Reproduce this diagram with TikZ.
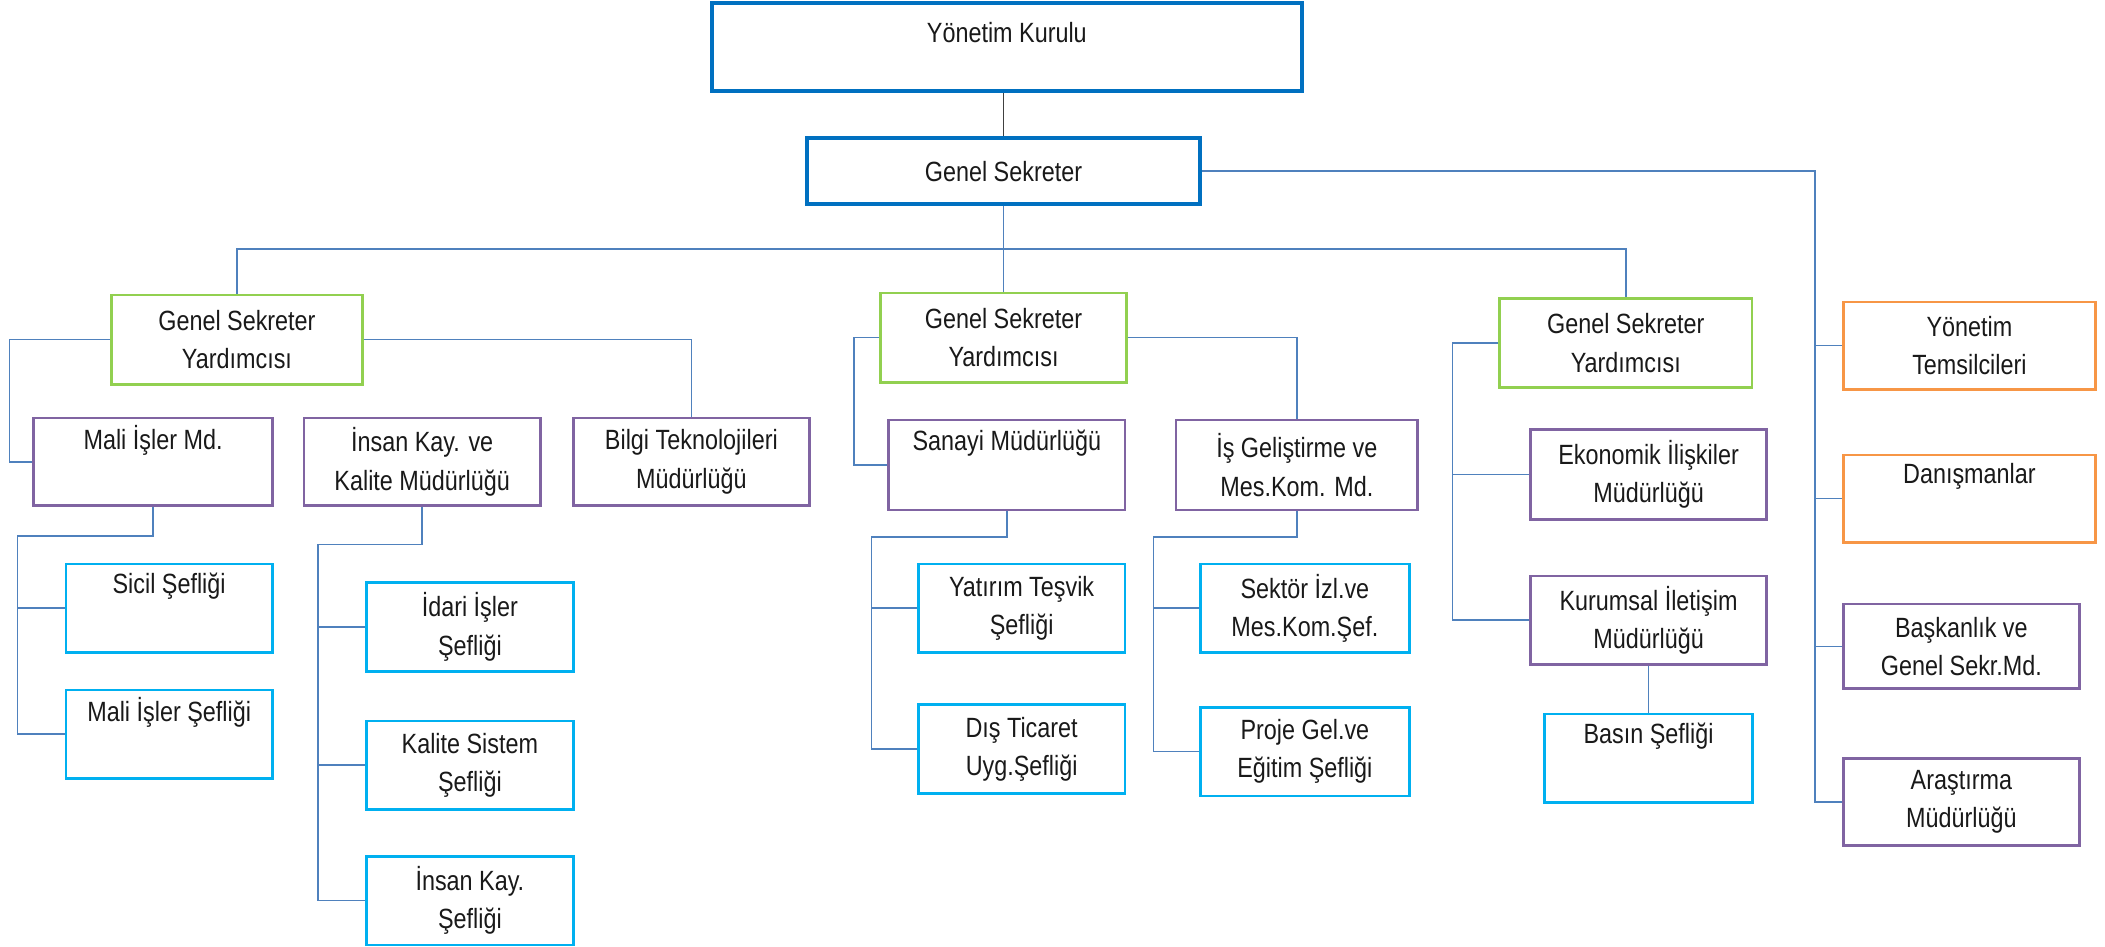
\documentclass[tikz,border=0pt]{standalone}
\usepackage{fontspec}
\setmainfont[FakeStretch=0.84]{Liberation Sans}
\usepackage{xcolor}
\usetikzlibrary{positioning, calc}
\definecolor{chiefblue}{HTML}{0070C0}
\definecolor{deputygreen}{HTML}{92D050}
\definecolor{officepurple}{HTML}{8064A2}
\definecolor{unitcyan}{HTML}{00B0F0}
\definecolor{advisororange}{HTML}{F79646}
\definecolor{linkblue}{HTML}{4F81BD}
\tikzset{%
  box/.style={draw, rectangle, align=center, inner sep=0mm, text=black!90,
    font=\fontsize{11.8}{16.2}\selectfont},
  chiefbox/.style={box, draw=chiefblue, line width=1.7pt},
  deputybox/.style={box, draw=deputygreen, line width=1.1pt,
    minimum width=3.74cm, minimum height=1.33cm},
  officebox/.style={box, draw=officepurple, line width=1.1pt,
    minimum width=3.52cm, minimum height=1.3cm},
  unitbox/.style={box, draw=unitcyan, line width=1.1pt,
    minimum width=3.08cm, minimum height=1.32cm},
  advisorbox/.style={box, draw=advisororange, line width=1.1pt,
    minimum width=3.76cm, minimum height=1.3cm},
  link/.style={draw=linkblue, line width=0.65pt}
}

\begin{document}
\begin{tikzpicture}[x=0.02cm, y=-0.02cm]
  \useasboundingbox (0,0) rectangle (1568,705);

  \node[chiefbox, minimum width=8.8cm, minimum height=1.32cm] (yk) at (750,35)
    {Yönetim Kurulu\\[-9pt]\strut};
  \node[chiefbox, minimum width=5.86cm, minimum height=0.98cm] (gs) at (747.5,127.5)
    {Genel Sekreter};

  \node[deputybox] (gsy1) at (176.5,253) {Genel Sekreter\\Yardımcısı};
  \node[deputybox, minimum width=3.66cm] (gsy2) at (747.5,251.5) {Genel Sekreter\\Yardımcısı};
  \node[deputybox, minimum width=3.76cm] (gsy3) at (1211,255.5) {Genel Sekreter\\Yardımcısı};

  \node[officebox, minimum width=3.56cm] (mali) at (114,344) {Mali İşler Md.\\\strut};
  \node[officebox] (insan) at (314.5,344) {İnsan Kay. ve\\Kalite Müdürlüğü};
  \node[officebox] (bilgi) at (515,344) {Bilgi Teknolojileri\\Müdürlüğü};

  \node[unitbox] (sicil) at (126,453) {Sicil Şefliği\\\strut};
  \node[unitbox, below=0.52cm of sicil] (malisef) {Mali İşler Şefliği\\\strut};

  \node[unitbox] (idari) at (350,467) {İdari İşler\\Şefliği};
  \node[unitbox, below=0.7cm of idari] (kalite) {Kalite Sistem\\Şefliği};
  \node[unitbox, below=0.66cm of kalite] (insansef) {İnsan Kay.\\Şefliği};

  \node[officebox, minimum height=1.34cm] (sanayi) at (750,346.5) {Sanayi Müdürlüğü\\\strut};
  \node[officebox, minimum width=3.6cm, minimum height=1.34cm] (isgel) at (966,346.5)
    {İş Geliştirme ve\\Mes.Kom. Md.};

  \node[unitbox] (yatirim) at (761,453) {Yatırım Teşvik\\Şefliği};
  \node[unitbox, below=0.74cm of yatirim] (distic) {Dış Ticaret\\Uyg.Şefliği};
  \node[unitbox, minimum width=3.12cm] (sektor) at (972,453) {Sektör İzl.ve\\Mes.Kom.Şef.};
  \node[unitbox, minimum width=3.12cm, below=0.78cm of sektor] (proje) {Proje Gel.ve\\Eğitim Şefliği};

  \node[officebox, minimum height=1.34cm] (ekon) at (1228,353.5) {Ekonomik İlişkiler\\Müdürlüğü};
  \node[officebox, minimum height=1.32cm, below=0.8cm of ekon] (kurum) {Kurumsal İletişim\\Müdürlüğü};
  \node[unitbox, minimum width=3.1cm, below=0.7cm of kurum] (basin) {Basın Şefliği\\\strut};

  \node[advisorbox] (yt) at (1467,257.5) {Yönetim\\Temsilcileri};
  \node[advisorbox, below=0.94cm of yt] (dan) {Danışmanlar\\\strut};
  \node[officebox, minimum height=1.26cm] (bask) at (1461,481.5) {Başkanlık ve\\Genel Sekr.Md.};
  \node[officebox, below=1.0cm of bask] (aras) {Araştırma\\Müdürlüğü};

  \draw[black!75, line width=0.65pt] (gs.north) -- (gs.north |- yk.south);
  \draw[link] (gs.south) -- (gsy2.north);
  \draw[link] (gsy1.north) |- ([yshift=0.64cm]gsy2.north) -| (gsy3.north);
  \draw[link] (gs.east) -| ([xshift=-0.4cm]aras.west) -- (aras.west);
  \foreach \n in {yt, dan, bask}
    \draw[link] ([xshift=-0.4cm]\n.west) -- (\n.west);

  \draw[link] (gsy1.west) -| ([xshift=-0.34cm]mali.west) -- (mali.west);
  \draw[link] (gsy1.east) -| (bilgi.north);
  \draw[link] (mali.south) -- ++(0,22) -| ([xshift=-0.7cm]malisef.west) -- (malisef.west);
  \draw[link] ([xshift=-0.7cm]sicil.west) -- (sicil.west);
  \draw[link] (insan.south) -- ++(0,28) -| ([xshift=-0.7cm]insansef.west) -- (insansef.west);
  \foreach \n in {idari, kalite}
    \draw[link] ([xshift=-0.7cm]\n.west) -- (\n.west);

  \draw[link] (gsy2.west) -| ([xshift=-0.5cm]sanayi.west) -- (sanayi.west);
  \draw[link] (gsy2.east) -| (isgel.north);
  \draw[link] (sanayi.south) -- ++(0,19) -| ([xshift=-0.68cm]distic.west) -- (distic.west);
  \draw[link] ([xshift=-0.68cm]yatirim.west) -- (yatirim.west);
  \draw[link] (isgel.south) -- ++(0,19) -| ([xshift=-0.68cm]proje.west) -- (proje.west);
  \draw[link] ([xshift=-0.68cm]sektor.west) -- (sektor.west);

  \draw[link] (gsy3.west) -| ([xshift=-1.14cm]kurum.west) -- (kurum.west);
  \draw[link] ([xshift=-1.14cm]ekon.west) -- (ekon.west);
  \draw[link] (kurum.south) -- (basin.north);
\end{tikzpicture}
\end{document}
